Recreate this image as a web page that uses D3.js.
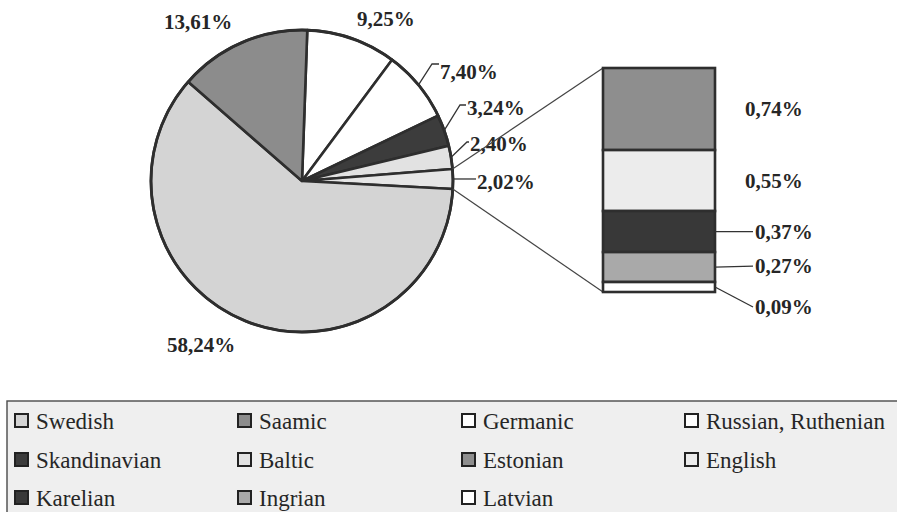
<!DOCTYPE html>
<html>
<head>
<meta charset="utf-8">
<script src="https://cdn.jsdelivr.net/npm/d3@7"></script>
<style>
  body { margin: 0; background: #fff; }
  text { font-family: "Liberation Serif", "Times New Roman", serif; fill: #262626; }
</style>
</head>
<body>
<div id="chart"></div>
<script>
// pie slices, clockwise from 12 o'clock
const pieNames = ["Germanic", "Russian, Ruthenian", "Skandinavian", "Baltic", "Other", "Swedish", "Saamic"];
const pieValues = [9.25, 7.40, 3.24, 2.40, 2.02, 58.24, 13.61];
const pieText = ["9,25%", "7,40%", "3,24%", "2,40%", "2,02%", "58,24%", "13,61%"];

// the "Other" slice broken out as a stacked bar
const barNames = ["Estonian", "English", "Karelian", "Ingrian", "Latvian"];
const barValues = [0.74, 0.55, 0.37, 0.27, 0.09];
const barText = ["0,74%", "0,55%", "0,37%", "0,27%", "0,09%"];

const legendNames = ["Swedish", "Saamic", "Germanic", "Russian, Ruthenian",
  "Skandinavian", "Baltic", "Estonian", "English",
  "Karelian", "Ingrian", "Latvian"];

const colors = {
  "Swedish": "#d4d4d4", "Saamic": "#8c8c8c", "Germanic": "#ffffff",
  "Russian, Ruthenian": "#ffffff", "Skandinavian": "#3c3c3c", "Baltic": "#e2e2e2",
  "Other": "#e6e6e6", "Estonian": "#8e8e8e", "English": "#ececec",
  "Karelian": "#383838", "Ingrian": "#a9a9a9", "Latvian": "#ffffff"
};

const W = 897, H = 512;
const svg = d3.select("#chart").append("svg")
  .attr("width", W).attr("height", H);

// ---- pie ----
const cx = 302, cy = 181, r = 151;
const off = 0.035;
const pie = d3.pie().sort(null).startAngle(off).endAngle(2 * Math.PI + off);
const arcs = pie(pieValues);
const arc = d3.arc().innerRadius(0).outerRadius(r);

const gPie = svg.append("g").attr("transform", `translate(${cx},${cy})`);
gPie.selectAll("path")
  .data(arcs)
  .join("path")
  .attr("d", arc)
  .attr("fill", (d, i) => colors[pieNames[i]])
  .attr("stroke", "#2e2e2e")
  .attr("stroke-width", 2.6)
  .attr("stroke-linejoin", "round");
gPie.append("circle").attr("r", r).attr("fill", "none")
  .attr("stroke", "#2e2e2e").attr("stroke-width", 2.8);

const pt = (a, rad) => [Math.sin(a) * rad, -Math.cos(a) * rad];

// label placement for each slice, relative to the pie centre
const labelPlace = [
  {x: 55, y: -162, lead: false},
  {x: 138, y: -109, lead: true, elbow: [130, -117]},
  {x: 165, y: -73, lead: true, elbow: [158, -76]},
  {x: 168, y: -37, lead: true, elbow: [165, -39]},
  {x: 175, y: 1, lead: true, elbow: null},
  {x: -135, y: 164, lead: false},
  {x: -138, y: -159, lead: false}
];

const labelFont = 21;
arcs.forEach((d, i) => {
  const p = labelPlace[i];
  if (p.lead) {
    const mid = (d.startAngle + d.endAngle) / 2;
    const e = pt(mid, r);
    const pts = [e];
    if (p.elbow) pts.push(p.elbow);
    pts.push([p.x - 1, p.elbow ? p.elbow[1] : e[1]]);
    gPie.append("path")
      .attr("d", d3.line()(pts))
      .attr("fill", "none")
      .attr("stroke", "#333")
      .attr("stroke-width", 1.3);
  }
  gPie.append("text")
    .attr("x", p.x)
    .attr("y", p.y)
    .attr("dy", "0.35em")
    .attr("font-size", labelFont)
    .attr("font-weight", "bold")
    .text(pieText[i]);
});

// ---- stacked bar of the "Other" slice ----
const barX = 603, barW = 112, barTop = 68, barBottom = 292;
const y = d3.scaleLinear().domain([0, d3.sum(barValues)]).range([barTop, barBottom]);
const cum = d3.cumsum(barValues);
const segs = barValues.map((v, i) => ({v, y0: cum[i] - v, y1: cum[i], name: barNames[i], txt: barText[i]}));

// connector lines from the slice edge to the bar
const other = arcs[4];
const a0 = pt(other.startAngle, r), a1 = pt(other.endAngle, r);
svg.append("line")
  .attr("x1", cx + a0[0]).attr("y1", cy + a0[1])
  .attr("x2", barX).attr("y2", y(0))
  .attr("stroke", "#444").attr("stroke-width", 1.2);
svg.append("line")
  .attr("x1", cx + a1[0]).attr("y1", cy + a1[1])
  .attr("x2", barX).attr("y2", y(d3.sum(barValues)))
  .attr("stroke", "#444").attr("stroke-width", 1.2);

svg.selectAll("rect.seg")
  .data(segs)
  .join("rect")
  .attr("class", "seg")
  .attr("x", barX)
  .attr("y", d => y(d.y0))
  .attr("width", barW)
  .attr("height", d => y(d.y1) - y(d.y0))
  .attr("fill", d => colors[d.name])
  .attr("stroke", "#2e2e2e")
  .attr("stroke-width", 2.6);

// bar labels: the two big ones sit beside, the small ones get leaders
segs.forEach((d, i) => {
  const ym = (y(d.y0) + y(d.y1)) / 2;
  let tx = 745, ty = ym;
  if (i >= 2) {
    tx = 755;
    let ly = ym;
    if (i === 4) { ly = ym + 20; }
    if (i === 3) { ly = ym - 1; }
    svg.append("path")
      .attr("d", d3.line()([[barX + barW, ym], [753, ly]]))
      .attr("stroke", "#333").attr("stroke-width", 1.3).attr("fill", "none");
    ty = ly;
  }
  svg.append("text")
    .attr("x", tx).attr("y", ty).attr("dy", "0.35em")
    .attr("font-size", labelFont).attr("font-weight", "bold")
    .text(d.txt);
});

// ---- legend ----
const lg = svg.append("g");
lg.append("rect")
  .attr("x", 7).attr("y", 401)
  .attr("width", W + 10).attr("height", 130)
  .attr("fill", "#efefef")
  .attr("stroke", "#4a4a4a").attr("stroke-width", 1.4);

const colX = [15, 238, 462, 685];
const rowY = [421, 460, 498];
legendNames.forEach((n, i) => {
  const cxL = colX[i % 4], cyL = rowY[Math.floor(i / 4)];
  lg.append("rect")
    .attr("x", cxL).attr("y", cyL - 7)
    .attr("width", 13).attr("height", 13)
    .attr("fill", colors[n])
    .attr("stroke", "#222").attr("stroke-width", 2);
  lg.append("text")
    .attr("x", cxL + 21).attr("y", cyL)
    .attr("dy", "0.35em")
    .attr("font-size", 23)
    .text(n);
});
</script>
</body>
</html>
